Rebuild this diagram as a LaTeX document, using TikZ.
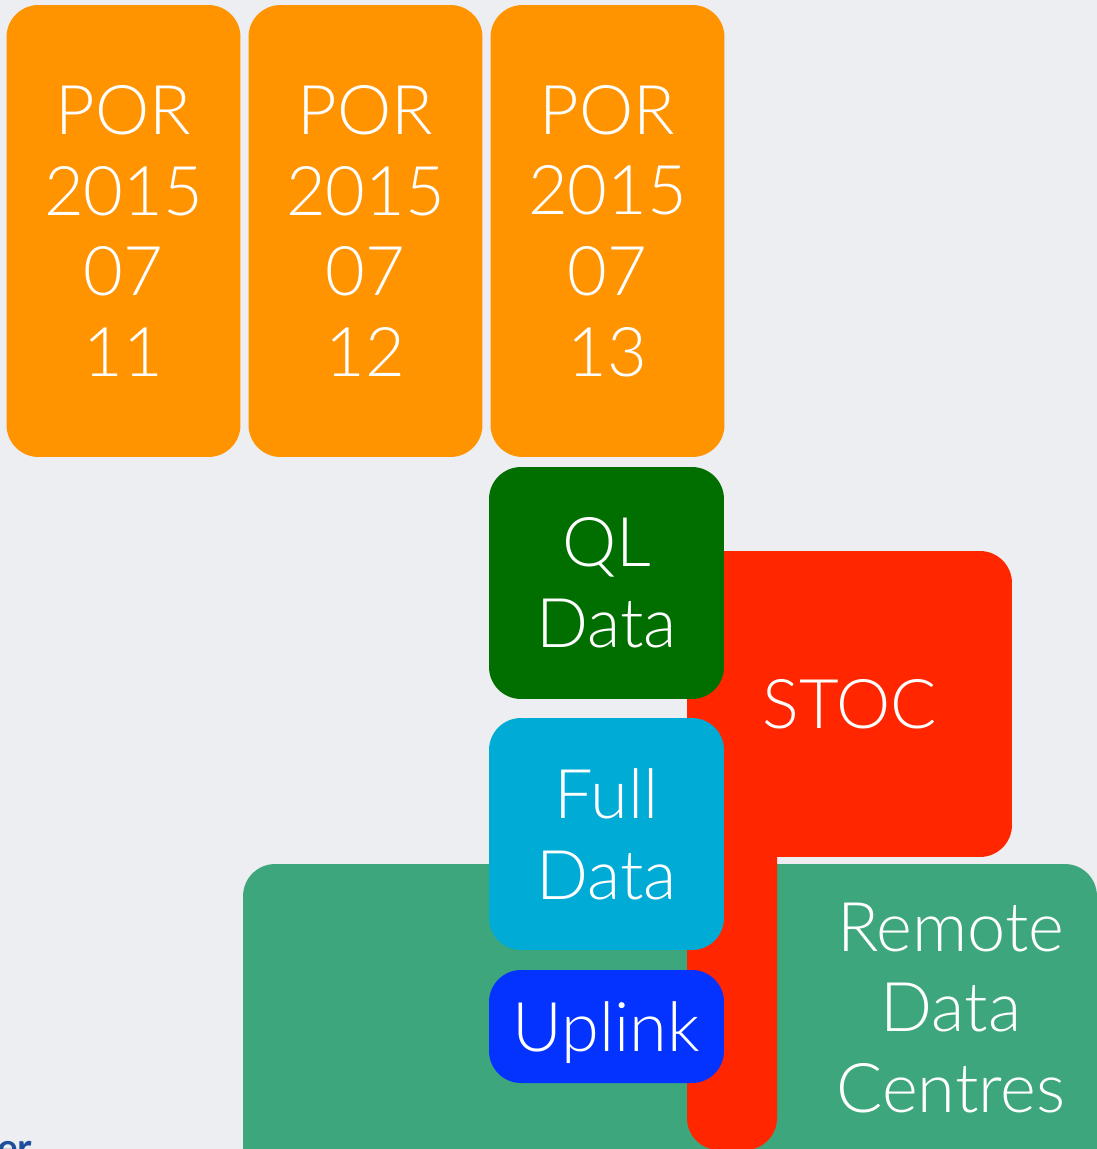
\documentclass[tikz,border=0pt]{standalone}
\usepackage{fontspec}
\setmainfont{Lato Light}
\newfontfamily\logofont{Lato}
\definecolor{porange}{HTML}{FF9300}
\definecolor{qlgreen}{HTML}{006F00}
\definecolor{stocred}{HTML}{FF2600}
\definecolor{fullcyan}{HTML}{00ABD6}
\definecolor{upblue}{HTML}{0433FF}
\definecolor{rdcgreen}{HTML}{3EA67C}
\definecolor{slidebg}{HTML}{ECEEF1}
\definecolor{logoblue}{HTML}{1E4F9C}

\begin{document}
\begin{tikzpicture}
    [x=0.02cm, y=-0.02cm,
    every node/.style={inner sep=0pt, text=white, align=center,
        font=\fontsize{39}{46}\selectfont},
    block/.style={rounded corners=0.64cm, minimum width=4.68cm},
    por/.style={block, fill=porange, minimum height=9.04cm}
    ]
    \useasboundingbox (0,0) rectangle (1097,1149);
    \fill[slidebg] (0,0) rectangle (1097,1149);
    \clip (0,0) rectangle (1097,1149);
    \node (por11) [por] at (123.5,231) {POR\\2015\\07\\11};
    \node (por12) [por] at (365.5,231) {POR\\2015\\07\\12};
    \node (por13) [por] at (607.5,231) {POR\\2015\\07\\13};
    \node (rdc) [block, fill=rdcgreen, minimum width=17.08cm, minimum height=6.72cm] at (670,1032) {};
    \fill[stocred, rounded corners=0.64cm] (687,640) rectangle (777,1150);
    \node (stoc) [block, fill=stocred, minimum width=6.5cm, minimum height=6.12cm] at (849.5,704) {STOC};
    \node (ql) [block, fill=qlgreen, minimum width=4.7cm, minimum height=4.64cm] at (606.5,583) {QL\\Data};
    \node (full) [block, fill=fullcyan, minimum width=4.7cm, minimum height=4.64cm] at (606.5,834) {Full\\Data};
    \node (uplink) [block, fill=upblue, minimum width=4.7cm, minimum height=2.26cm, text depth=0pt] at (606.5,1026.5) {Uplink};
    \node (rdclabel) at (951,1008) {Remote\\Data\\Centres};
    \node (logo) [anchor=north west, text=logoblue, font=\logofont\bfseries\fontsize{22}{22}\selectfont] at (-3,1141) {er};
\end{tikzpicture}
\end{document}
